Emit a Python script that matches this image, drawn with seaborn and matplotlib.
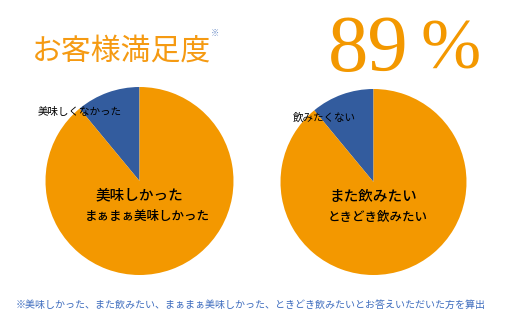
import matplotlib
matplotlib.use("Agg")
import matplotlib.pyplot as plt
import seaborn as sns

sns.set_theme(style="white")
plt.rcParams["font.family"] = ["Noto Sans CJK JP", "DejaVu Sans"]

# Survey results (percent)
taste_labels = ["美味しくなかった", "美味しかった", "まぁまぁ美味しかった"]
taste_values = [11, 89]
drink_labels = ["飲みたくない", "また飲みたい", "ときどき飲みたい"]
drink_values = [11, 89]
headline_value = "89"
headline_unit = "%"
title = "お客様満足度"
footnote = "※美味しかった、また飲みたい、まぁまぁ美味しかった、ときどき飲みたいとお答えいただいた方を算出"

BLUE = "#335C9E"
ORANGE = "#F39800"
TITLE_ORANGE = "#F59A12"
NOTE_BLUE = "#3D6CBE"

W, H = 508, 322
fig = plt.figure(figsize=(W / 100, H / 100), dpi=100)
fig.patch.set_facecolor("white")


def pie_axes(cx, cy, r):
    ax = fig.add_axes([(cx - r) / W, (H - cy - r) / H, 2 * r / W, 2 * r / H])
    return ax


def draw_pie(ax, values, labels, small_pos, big_pos, mid_pos):
    ax.pie(values, colors=[BLUE, ORANGE], startangle=90, counterclock=True,
           radius=1.0, wedgeprops=dict(linewidth=0))
    ax.set_xlim(-1, 1)
    ax.set_ylim(-1, 1)
    ax.set_aspect("auto")
    ax.axis("off")
    ax.text(*small_pos, labels[0], ha="center", va="center", fontsize=7.6,
            color="black", clip_on=False)
    ax.text(*big_pos, labels[1], ha="center", va="center", fontsize=10.5,
            color="black", fontweight="medium")
    ax.text(*mid_pos, labels[2], ha="center", va="center", fontsize=9,
            color="black", fontweight="medium")


ax1 = pie_axes(139.5, 181, 94)
draw_pie(ax1, taste_values, taste_labels, (-0.64, 0.73), (0.0, -0.15), (0.085, -0.38))

ax2 = pie_axes(373.5, 182, 93)
draw_pie(ax2, drink_values, drink_labels, (-0.53, 0.69), (0.0, -0.16), (0.04, -0.38))

fig.text(32 / W, 1 - 51 / H, title, ha="left", va="center", fontsize=21.5,
         color=TITLE_ORANGE)
fig.text(211 / W, 1 - 33 / H, "※", ha="left", va="center", fontsize=6,
         color="#6E8FC8")
serif = ["Liberation Serif", "DejaVu Serif"]
fig.text(368 / W, 1 - 51 / H, headline_value, ha="center", va="center",
         fontsize=58, color=ORANGE, family=serif)
fig.text(451 / W, 1 - 51 / H, headline_unit, ha="center", va="center",
         fontsize=52, color=ORANGE, family=serif)
fig.text(251 / W, 1 - 305 / H, footnote, ha="center", va="center", fontsize=7.2,
         color=NOTE_BLUE)

fig.savefig("out.png", dpi=100, facecolor="white")
